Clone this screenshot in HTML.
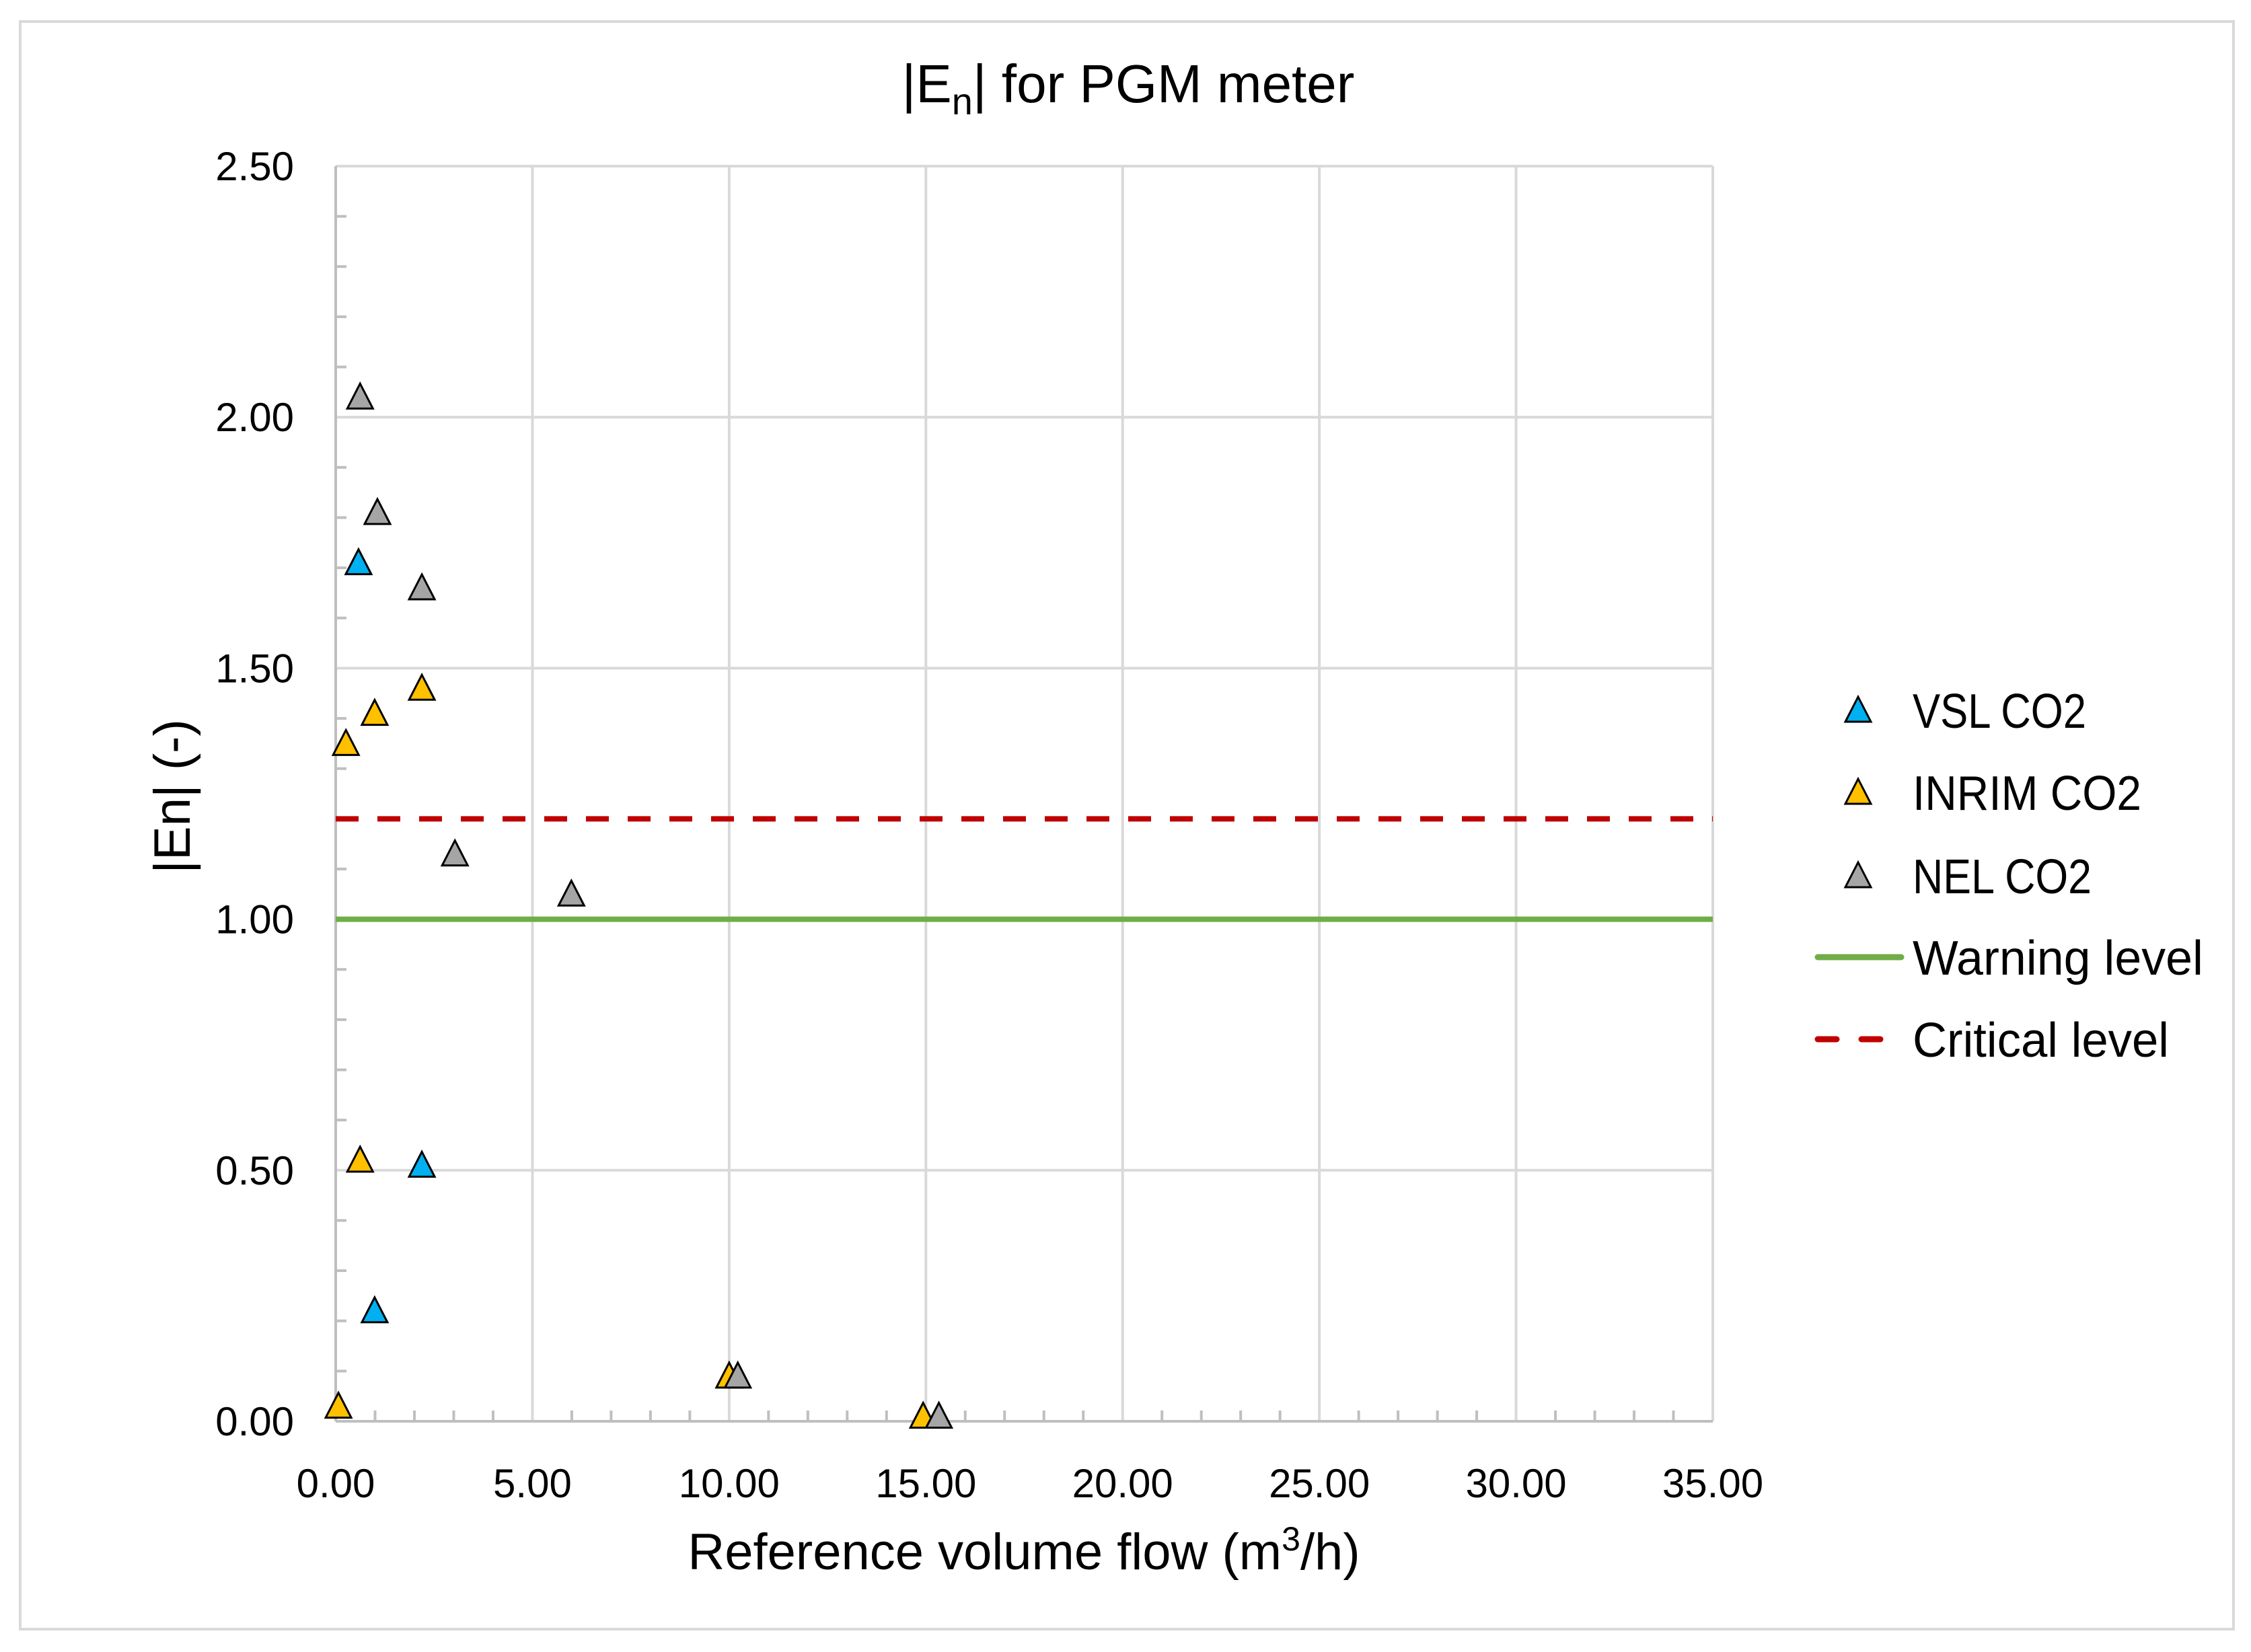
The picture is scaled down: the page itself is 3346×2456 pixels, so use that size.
<!DOCTYPE html>
<html><head><meta charset="utf-8"><style>
html,body{margin:0;padding:0;background:#fff;}
svg{display:block;font-family:"Liberation Sans",sans-serif;}
</style></head><body>
<svg id="chart" width="3346" height="2456" viewBox="0 0 3346 2456">
<rect x="30" y="32" width="3290" height="2390" fill="#fff" stroke="#d9d9d9" stroke-width="4"/>
<text x="1677" y="152" font-size="80" text-anchor="middle" fill="#000">|E<tspan font-size="56" dy="18">n</tspan><tspan dy="-18">| for PGM meter</tspan></text>
<g id="grid"></g>
<g id="axes"></g>
<g id="refs"></g>
<g id="marks"></g>
<text transform="translate(282,1184) rotate(-90)" font-size="76" text-anchor="middle">|En| (-)</text>
<text x="1522" y="2333" font-size="76" text-anchor="middle">Reference volume flow (m<tspan font-size="50" dy="-28">3</tspan><tspan dy="28">/h)</tspan></text>
<g id="legend"></g>
</svg>
<script>
const xTicks = [0,5,10,15,20,25,30,35];
const yTicks = [0,0.5,1.0,1.5,2.0,2.5];
const seriesNames = ["VSL CO2","INRIM CO2","NEL CO2"];
const seriesColors = ["#00b0f0","#ffc000","#a5a5a5"];
const vslX = [0.58,0.99,2.19];
const vslY = [1.71,0.22,0.51];
const inrimX = [0.26,0.62,0.99,2.19,0.07,10.0,14.93];
const inrimY = [1.35,0.52,1.41,1.46,0.03,0.09,0.01];
const nelX = [0.62,1.06,2.19,3.03,5.99,10.22,15.33];
const nelY = [2.04,1.81,1.66,1.13,1.05,0.09,0.01];
const warningLevel = 1.0;
const criticalLevel = 1.2;

const L=499,R=2546,T=247,B=2113;
const sx=v=>L+(v-0)/(35-0)*(R-L);
const sy=v=>B-(v-0)/(2.5-0)*(B-T);
const NS="http://www.w3.org/2000/svg";
function mk(tag,attrs,parent){const e=document.createElementNS(NS,tag);for(const k in attrs)e.setAttribute(k,attrs[k]);parent.appendChild(e);return e;}
const grid=document.getElementById('grid'),axes=document.getElementById('axes'),refs=document.getElementById('refs'),marks=document.getElementById('marks'),legend=document.getElementById('legend');

xTicks.forEach(t=>{
  if(t>0){const g=mk('line',{x1:sx(t),x2:sx(t),y1:T,y2:B,stroke:'#d9d9d9','stroke-width':4},grid);
  
  }
  const tx=mk('text',{x:sx(t),y:2226,'font-size':60,'text-anchor':'middle'},axes);
  tx.textContent=t.toFixed(2);
  
  
});
yTicks.forEach(t=>{
  if(t>0){const g=mk('line',{x1:L,x2:R,y1:sy(t),y2:sy(t),stroke:'#d9d9d9','stroke-width':4},grid);
  
  }
  const tx=mk('text',{x:437,y:sy(t)+21,'font-size':60,'text-anchor':'end'},axes);
  tx.textContent=t.toFixed(2);
  
  
});
for(let i=1;i<35;i++){if(i%5===0)continue;
  const m=mk('line',{x1:sx(i),x2:sx(i),y1:B,y2:B-16,stroke:'#bfbfbf','stroke-width':4},axes);
  
  }
for(let i=1;i<25;i++){if(i%5===0)continue;
  const m=mk('line',{x1:L,x2:L+16,y1:sy(i/10),y2:sy(i/10),stroke:'#bfbfbf','stroke-width':4},axes);
  
  }
const ax1=mk('line',{x1:L,x2:L,y1:T,y2:B,stroke:'#bfbfbf','stroke-width':4},axes);


const ax2=mk('line',{x1:L,x2:R,y1:B,y2:B,stroke:'#bfbfbf','stroke-width':4},axes);



const wl=mk('line',{x1:L,x2:R,y1:sy(warningLevel),y2:sy(warningLevel),stroke:'#70ad47','stroke-width':8},refs);


const cl=mk('line',{x1:L,x2:R,y1:sy(criticalLevel),y2:sy(criticalLevel),stroke:'#c00000','stroke-width':8,'stroke-dasharray':'34 28'},refs);



function tri(cx,cy,fill,parent){
  return mk('polygon',{points:`${cx},${cy-20} ${cx+19},${cy+17} ${cx-19},${cy+17}`,fill:fill,stroke:'#000','stroke-width':3,'stroke-linejoin':'miter'},parent);
}
const allX=[vslX,inrimX,nelX],allY=[vslY,inrimY,nelY];
allX.forEach((xs,s)=>{xs.forEach((x,i)=>{
  const p=tri(sx(x),sy(allY[s][i]),seriesColors[s],marks);
  
  
});});

const rowY=[1056,1178,1302,1423,1545];
seriesNames.forEach((n,i)=>{
  const p=tri(2762,rowY[i],seriesColors[i],legend);
  
  
});
const lg=mk('line',{x1:2702,x2:2826,y1:rowY[3],y2:rowY[3],stroke:'#70ad47','stroke-width':9,'stroke-linecap':'round'},legend);


const lc=mk('line',{x1:2702,x2:2800,y1:rowY[4],y2:rowY[4],stroke:'#c00000','stroke-width':9,'stroke-linecap':'round','stroke-dasharray':'28 37'},legend);


const labels=seriesNames.concat(["Warning level","Critical level"]);
const widths=[258,340,266,432,381];
labels.forEach((n,i)=>{
  const t=mk('text',{x:2843,y:rowY[i]+26,'font-size':72,textLength:widths[i],lengthAdjust:'spacingAndGlyphs'},legend);
  t.textContent=n;
  
  
});
</script>
</body></html>
